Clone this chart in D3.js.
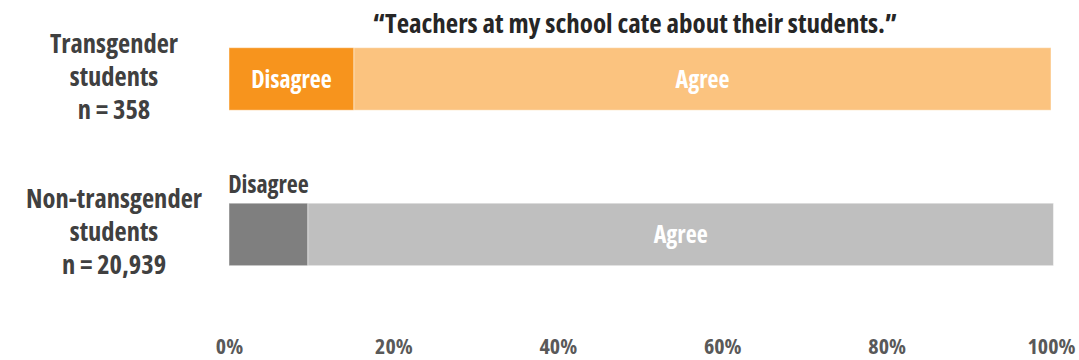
<!DOCTYPE html>
<html>
<head>
<meta charset="utf-8">
<script src="https://cdn.jsdelivr.net/npm/d3@7"></script>
<style>
  html, body { margin: 0; padding: 0; background: #ffffff; }
  svg text { font-family: "Open Sans", "Liberation Sans Narrow", "DejaVu Sans Condensed", sans-serif; font-weight: 700; font-stretch: 75%; }
</style>
</head>
<body>
<svg id="chart" width="1079" height="360"></svg>
<script>
// Survey item shown above the bars
const title = "\u201CTeachers at my school cate about their students.\u201D";

// Respondent groups (label lines drawn to the left of each bar)
const groups = ["Transgender", "Non-transgender"];
const groupLabels = [
  ["Transgender", "students", "n = 358"],
  ["Non-transgender", "students", "n = 20,939"]
];

// Response shares, percent
const responses = ["Disagree", "Agree"];
const disagree = [15.2, 9.6];
const agree = [84.8, 90.7];

// Axis ticks
const tickValues = [0, 20, 40, 60, 80, 100];

// Fill colours per group: [Disagree, Agree]
const palette = [
  ["#F7941D", "#FBC37F"],
  ["#7F7F7F", "#BFBFBF"]
];

const svg = d3.select("#chart");

const x = d3.scaleLinear().domain([0, 100]).range([229, 1051]);
const y = d3.scaleBand().domain(groups).range([47.7, 265.7]).paddingInner(0.598).paddingOuter(0);

// Title
svg.append("text")
  .attr("x", 635)
  .attr("y", 33)
  .attr("text-anchor", "middle")
  .attr("fill", "#262626")
  .style("font-size", "27px")
  .text(title);

// Stack the two response segments per group
const rows = groups.map((g, i) => {
  let start = 0;
  return responses.map((r, j) => {
    const v = j === 0 ? disagree[i] : agree[i];
    const seg = { group: g, gi: i, response: r, ri: j, x0: start, x1: start + v };
    start += v;
    return seg;
  });
});
const segments = rows.flat();

const bars = svg.append("g").attr("class", "bars");
bars.selectAll("rect")
  .data(segments)
  .join("rect")
  .attr("x", d => x(d.x0))
  .attr("y", d => y(d.group))
  .attr("width", d => x(d.x1) - x(d.x0))
  .attr("height", y.bandwidth())
  .attr("fill", d => palette[d.gi][d.ri])
  .attr("stroke", "#ffffff")
  .attr("stroke-opacity", 0.45)
  .attr("stroke-width", 1);

// Segment labels: inside when they fit, otherwise above the segment
const segLabels = svg.append("g").attr("class", "seg-labels");
segments.forEach(d => {
  const cx = (x(d.x0) + x(d.x1)) / 2;
  const t = segLabels.append("text")
    .attr("x", cx)
    .attr("text-anchor", "middle")
    .style("font-size", "24px")
    .text(d.response);
  const w = t.node().getComputedTextLength();
  const segW = x(d.x1) - x(d.x0);
  if (w + 16 <= segW) {
    t.attr("y", y(d.group) + y.bandwidth() / 2 + 9).attr("fill", "#ffffff");
  } else {
    t.attr("y", y(d.group) - 10).attr("fill", "#404040");
  }
});

// Group labels on the left
const gl = svg.append("g").attr("class", "group-labels");
groups.forEach((g, i) => {
  const cy = y(g) + y.bandwidth() / 2;
  groupLabels[i].forEach((line, k) => {
    gl.append("text")
      .attr("x", 114)
      .attr("y", cy + 7 + (k - 1) * 33)
      .attr("text-anchor", "middle")
      .attr("fill", "#404040")
      .style("font-size", "26.5px")
      .text(line);
  });
});

// Percentage axis along the bottom
const axis = d3.axisBottom(x)
  .tickValues(tickValues)
  .tickFormat(d => d + "%")
  .tickSize(0)
  .tickPadding(0);

const ag = svg.append("g")
  .attr("transform", "translate(0,354)")
  .call(axis);
ag.select(".domain").remove();
ag.selectAll("text")
  .attr("y", 0)
  .attr("dy", 0)
  .attr("fill", "#595959")
  .style("font-size", "22px")
  .style("font-family", null);
</script>
</body>
</html>
